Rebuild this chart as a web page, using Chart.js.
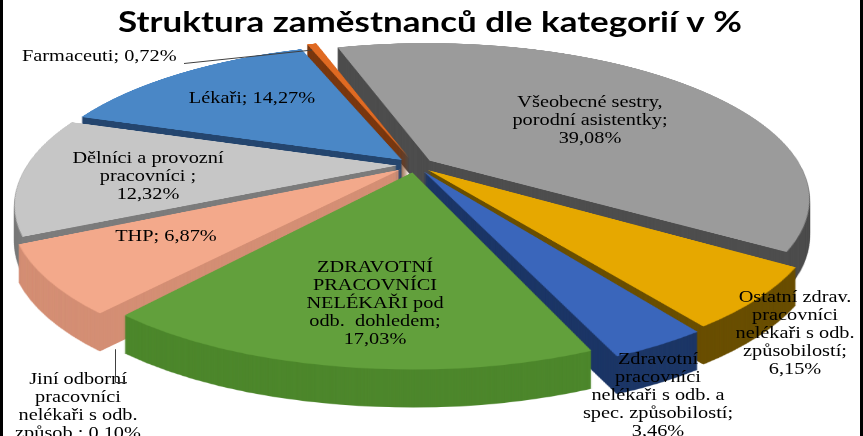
<!DOCTYPE html>
<html><head><meta charset="utf-8">
<script src="https://cdn.jsdelivr.net/npm/chart.js@4.4.0/dist/chart.umd.min.js"></script>
<style>html,body{margin:0;padding:0;background:#fff;overflow:hidden}#wrap{width:863px;height:436px;position:relative}</style>
</head><body><div id="wrap"><canvas id="c" width="863" height="436"></canvas></div>
<script>
// ---- data ----
const titleText = 'Struktura zaměstnanců dle kategorií v %';
const categories = [
  'Všeobecné sestry, porodní asistentky',
  'Ostatní zdrav. pracovníci nelékaři s odb. způsobilostí',
  'Zdravotní pracovníci nelékaři s odb. a spec. způsobilostí',
  'ZDRAVOTNÍ PRACOVNÍCI NELÉKAŘI pod odb. dohledem',
  'Jiní odborní pracovníci nelékaři s odb. způsob.',
  'THP',
  'Dělníci a provozní pracovníci',
  'Lékaři',
  'Farmaceuti'
];
const shares = [39.08, 6.15, 3.46, 17.03, 0.10, 6.87, 12.32, 14.27, 0.72];
// category text split in lines as printed (value appended to last line)
const labelLines = [
  ['Všeobecné sestry,', 'porodní asistentky;', ''],
  ['Ostatní zdrav.', 'pracovníci', 'nelékaři s odb.', 'způsobilostí;', ''],
  ['Zdravotní', 'pracovníci', 'nelékaři s odb. a', 'spec. způsobilostí;', ''],
  ['ZDRAVOTNÍ', 'PRACOVNÍCI', 'NELÉKAŘI pod', 'odb.  dohledem;', ''],
  ['Jiní odborní', 'pracovníci', 'nelékaři s odb.', 'způsob.; '],
  ['THP; '],
  ['Dělníci a provozní', 'pracovníci ;', ''],
  ['Lékaři; '],
  ['Farmaceuti; ']
];
const topColors  = ['#9b9b9b','#e6a800','#3a66bb','#62a03c','#8da6cb','#f3a98b','#c6c6c6','#4a87c6','#e06a22'];
const sideColors = ['#4e4e4e','#6a4f00','#1d3767','#4d872c','#6b84a8','#d48f75','#7c7c7c','#25466f','#7a3810'];

// ---- layout ----
// perspective view of the pie: apex position, flat radius, tilt, viewer distance, wall depth
const VIEW = {ax: 415, ay: 165, rho: 364, cos: 0.399, sin: 0.917, P: 1412, depth: 38};
const labelPos = [[590,103],[795,298],[658,360],[375,268],[78,380],[166,237],[148,159],[252,99],[22,57,'left']];
const LINE_H = 18, TEXT_STRETCH = 1.27, LABEL_FONT = '16px "Liberation Serif"';

function fmt(v){ return v.toFixed(2).replace('.', ',') + '%'; }
// flat (u,v) relative to pie centre, in output units -> screen
function fwd(u, v){
  const s = VIEW.P / (VIEW.P - v * VIEW.sin);
  return [VIEW.ax + u * s, VIEW.ay + v * VIEW.cos * s];
}
let FLAT = null;

function renderFlat(els, Q, N, colorFor){
  const cv = document.createElement('canvas');
  cv.width = N; cv.height = N;
  const c = cv.getContext('2d');
  els.forEach((el, i) => {
    c.save();
    c.setTransform(Q, 0, 0, Q, N / 2 - el.x * Q, N / 2 - el.y * Q);
    if (colorFor){
      const fake = Object.create(el);
      fake.options = {backgroundColor: colorFor[i], borderColor: colorFor[i], borderWidth: 0,
        borderAlign: 'center', borderRadius: 0, spacing: 0, circular: true,
        offset: el.options.offset, borderDash: [], borderDashOffset: 0};
      fake.draw(c);
    } else {
      el.draw(c);
    }
    c.restore();
  });
  return cv;
}
function warp(src, N, dst){
  const {ax, ay, cos, sin, P} = VIEW;
  for (let Y = 0; Y < 436; Y++){
    const t0 = Y - ay, t1 = Y + 1 - ay;
    const v0 = t0 * P / (cos * P + t0 * sin), v1 = t1 * P / (cos * P + t1 * sin);
    let sy0 = N / 2 + v0, sy1 = N / 2 + v1;
    if (sy1 <= 0 || sy0 >= N) continue;
    sy0 = Math.max(0, sy0); sy1 = Math.min(N, sy1);
    const vm = (v0 + v1) / 2;
    const s = P / (P - vm * sin);
    dst.drawImage(src, 0, sy0, N, sy1 - sy0, ax - (N / 2) * s, Y, N * s, 1);
  }
}

const pie3d = {
  id: 'pie3d',
  beforeDatasetsDraw(chart){
    const ctx = chart.ctx;
    const els = chart.getDatasetMeta(0).data;
    if (!els.length) return;
    const R = els[0].outerRadius;
    const Q = VIEW.rho / R;
    const N = Math.ceil(2 * (VIEW.rho + 50));
    FLAT = {Q, N};
    const flatTop = renderFlat(els, Q, N, null);
    const flatSide = renderFlat(els, Q, N, sideColors);
    // walls: warped side layer stacked downward
    const ws = document.createElement('canvas');
    ws.width = 863; ws.height = 436;
    const wctx = ws.getContext('2d');
    warp(flatSide, N, wctx);
    for (let dy = VIEW.depth; dy >= 1; dy--) ctx.drawImage(ws, 0, dy);
    // top faces
    warp(flatTop, N, ctx);
    return false;
  },
  afterDraw(chart){
    const ctx = chart.ctx;
    const els = chart.getDatasetMeta(0).data;
    // title
    ctx.save();
    ctx.font = 'bold 28px Lato';
    ctx.fillStyle = '#000';
    ctx.textBaseline = 'alphabetic';
    const tw = ctx.measureText(titleText).width;
    const ts = 624 / tw;
    ctx.translate(118, 32); ctx.scale(ts, 1);
    ctx.fillText(titleText, 0, 0);
    ctx.restore();
    // labels
    ctx.save();
    ctx.font = LABEL_FONT;
    ctx.fillStyle = '#000';
    ctx.textBaseline = 'middle';
    labelLines.forEach((lines, i) => {
      const [lx, ly, al] = labelPos[i];
      lines.forEach((ln, k) => {
        const txt = (k === lines.length - 1) ? ln + fmt(shares[i]) : ln;
        const w = ctx.measureText(txt).width * TEXT_STRETCH;
        const x = al === 'left' ? lx : lx - w / 2;
        ctx.save(); ctx.translate(x, ly + k * LINE_H); ctx.scale(TEXT_STRETCH, 1);
        ctx.fillText(txt, 0, 0); ctx.restore();
      });
    });
    ctx.restore();
    // leader lines
    if (FLAT){
      ctx.save();
      ctx.strokeStyle = '#404040'; ctx.lineWidth = 1;
      const pt = (i) => {
        const el = els[i]; const a = (el.startAngle + el.endAngle) / 2;
        const r = (el.outerRadius + (el.options.offset || 0) / 4) * FLAT.Q;
        return fwd(Math.cos(a) * r, Math.sin(a) * r);
      };
      const pf = pt(8);
      ctx.beginPath(); ctx.moveTo(184, 63.5); ctx.lineTo(pf[0] - 3, pf[1] + 2); ctx.stroke();
      const pj = pt(4);
      const jx = Math.round(pj[0]) + 0.5;
      ctx.beginPath(); ctx.moveTo(127, 382.5); ctx.lineTo(jx, 382.5); ctx.lineTo(jx, pj[1] + VIEW.depth); ctx.stroke();
      ctx.restore();
    }
    // frame bars
    ctx.fillStyle = '#000';
    ctx.fillRect(0, 0, 3, 436);
    ctx.fillRect(860, 0, 3, 436);
  }
};

new Chart(document.getElementById('c'), {
  type: 'pie',
  data: {
    labels: categories,
    datasets: [{
      data: shares,
      backgroundColor: topColors,
      borderWidth: 0,
      offset: 40,
      clip: false
    }]
  },
  options: {
    responsive: false,
    animation: false,
    rotation: -17.5,
    layout: {padding: 0},
    plugins: {legend: {display: false}, tooltip: {enabled: false}, title: {display: false}}
  },
  plugins: [pie3d]
});
</script>
</body></html>
